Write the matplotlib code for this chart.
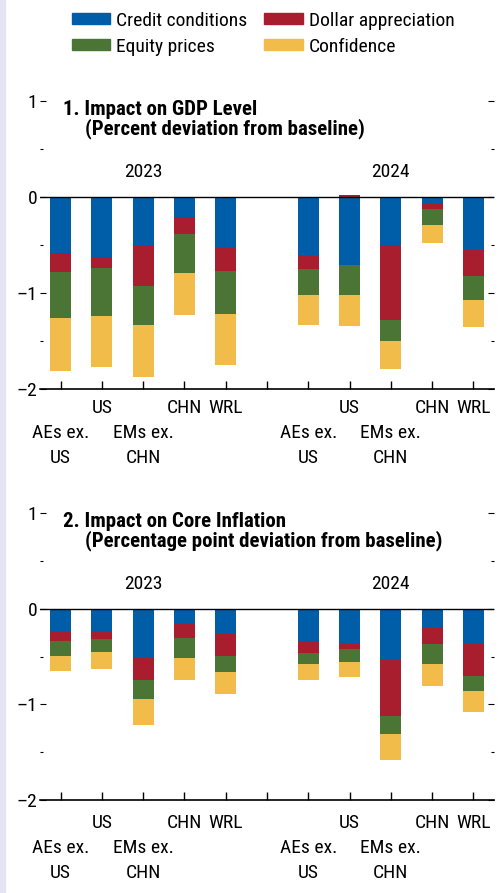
import matplotlib.pyplot as plt
import numpy as np
from matplotlib.patches import Rectangle, Patch
from matplotlib.ticker import MultipleLocator

plt.rcParams['font.family'] = ['Roboto Condensed', 'Archivo Narrow', 'DejaVu Sans']

# bar slots: 0-4 = 2023, 5 = gap, 6-10 = 2024
positions = [0, 1, 2, 3, 4, 6, 7, 8, 9, 10]
countries = ["AEs ex.\nUS", "US", "EMs ex.\nCHN", "CHN", "WRL"] * 2
years = ["2023", "2024"]
year_pos = [2, 8]

series_names = ["Credit conditions", "Dollar appreciation", "Equity prices", "Confidence"]
colors = ['#005DA8', '#A81E2E', '#4A7535', '#F2BC4B']

# Panel 1: GDP level (percent deviation from baseline)
gdp_credit = [-0.59, -0.63, -0.50, -0.21, -0.53, -0.61, -0.71, -0.51, -0.07, -0.55]
gdp_dollar = [-0.19, -0.11, -0.43, -0.18, -0.24, -0.14, 0.02, -0.77, -0.06, -0.27]
gdp_equity = [-0.48, -0.50, -0.41, -0.40, -0.45, -0.27, -0.31, -0.22, -0.16, -0.25]
gdp_conf = [-0.56, -0.53, -0.54, -0.44, -0.53, -0.32, -0.33, -0.29, -0.19, -0.29]

# Panel 2: core inflation (percentage point deviation from baseline)
inf_credit = [-0.24, -0.24, -0.51, -0.16, -0.26, -0.34, -0.36, -0.52, -0.20, -0.37]
inf_dollar = [-0.10, -0.07, -0.23, -0.14, -0.23, -0.125, -0.065, -0.60, -0.17, -0.335]
inf_equity = [-0.15, -0.145, -0.205, -0.21, -0.17, -0.115, -0.135, -0.19, -0.21, -0.155]
inf_conf = [-0.16, -0.17, -0.265, -0.23, -0.23, -0.165, -0.155, -0.27, -0.23, -0.22]

panels = [
    ("1. Impact on GDP Level", "(Percent deviation from baseline)",
     [gdp_credit, gdp_dollar, gdp_equity, gdp_conf]),
    ("2. Impact on Core Inflation", "(Percentage point deviation from baseline)",
     [inf_credit, inf_dollar, inf_equity, inf_conf]),
]

fs = 14
fig = plt.figure(figsize=(4.99, 8.93), dpi=100)
fig.patches.append(Rectangle((0, 0), 5 / 499, 1, transform=fig.transFigure,
                             color='#E3E5F4', zorder=0))

ax_rects = [[40 / 499, 0.5647, 454 / 499, 0.3222],
            [40 / 499, 0.1041, 454 / 499, 0.3211]]
label_shift = [0, -2.5]  # the lower panel's category labels sit a little lower

for rect, shift, (title1, title2, series) in zip(ax_rects, label_shift, panels):
    ax = fig.add_axes(rect)
    pos_base = np.zeros(len(positions))
    neg_base = np.zeros(len(positions))
    for vals, col in zip(series, colors):
        vals = np.array(vals)
        bottom = np.where(vals >= 0, pos_base, neg_base)
        ax.bar(positions, vals, bottom=bottom, width=0.51, color=col, linewidth=0, zorder=2)
        pos_base += np.clip(vals, 0, None)
        neg_base += np.clip(vals, None, 0)

    ax.set_xlim(-0.5, 10.5)
    ax.set_ylim(-2, 1)
    ax.axhline(0, color='black', linewidth=1, zorder=3)
    for s in ['top', 'left', 'right']:
        ax.spines[s].set_visible(False)
    ax.spines['bottom'].set_linewidth(1.2)

    ax.set_yticks([-2, -1, 0, 1])
    ax.set_yticklabels(['\u20132', '\u20131', '0', '1'], fontsize=fs)
    ax.yaxis.set_minor_locator(MultipleLocator(0.5))
    ax.tick_params(axis='y', which='major', direction='in', length=4.5, width=0.8,
                   left=True, right=True, pad=2)
    ax.tick_params(axis='y', which='minor', direction='in', length=2.5, width=0.8,
                   left=True, right=True)
    ax.set_xticks(range(11))
    ax.set_xticklabels([])
    ax.tick_params(axis='x', direction='in', length=6, width=1)

    for p, name in zip(positions, countries):
        if '\n' in name:
            l1, l2 = name.split('\n')
            ax.annotate(l1, (p, 0), xycoords=('data', 'axes fraction'), xytext=(0, -32 + shift),
                        textcoords='offset points', ha='center', va='center', fontsize=fs)
            ax.annotate(l2, (p, 0), xycoords=('data', 'axes fraction'), xytext=(0, -50 + shift),
                        textcoords='offset points', ha='center', va='center', fontsize=fs)
        else:
            ax.annotate(name, (p, 0), xycoords=('data', 'axes fraction'), xytext=(0, -14 + shift),
                        textcoords='offset points', ha='center', va='center', fontsize=fs)

    for yp, yr in zip(year_pos, years):
        ax.text(yp, 0.26, yr, ha='center', va='center', fontsize=fs)

    ax.text(0.05, 0.855, title1, transform=ax.get_yaxis_transform(), ha='left',
            va='baseline', fontsize=15, fontweight='bold')
    ax.text(0.099, 0.655, title2, transform=ax.get_yaxis_transform(), ha='left',
            va='baseline', fontsize=15, fontweight='bold')

handles = [Patch(color=c) for c in colors]
order = [0, 2, 1, 3]
fig.legend([handles[i] for i in order], [series_names[i] for i in order], ncol=2,
           loc='upper left', bbox_to_anchor=(56 / 499, 1 + 4 / 893), frameon=False,
           fontsize=fs, handlelength=2.0, handleheight=0.47, handletextpad=0.3,
           columnspacing=0.85, labelspacing=0.42, borderpad=0.3)

fig.savefig('out.png', dpi=100)
